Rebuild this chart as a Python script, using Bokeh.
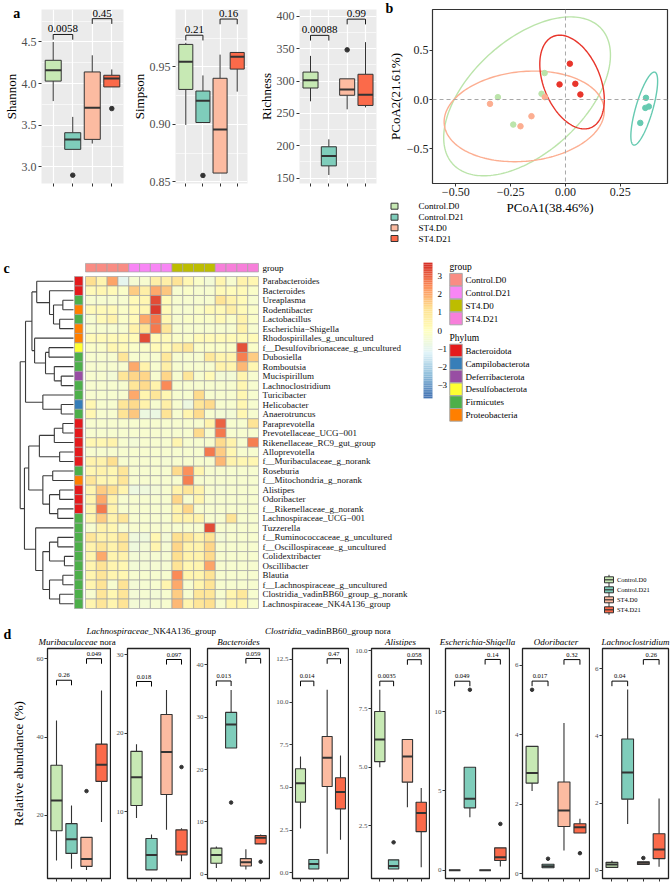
import numpy as np
from bokeh.plotting import figure
from bokeh.models import (Range1d, FixedTicker, CustomJSTickFormatter,
                          ColumnDataSource, LinearColorMapper, Span)
from bokeh.layouts import row, column
from bokeh.embed import file_html
from bokeh.resources import INLINE
from bokeh.core.properties import value
from bokeh.transform import transform

FONT = "Liberation Serif"
EDGE = "#333333"
MINUS = "\u2212"

# ------------------------------------------------------------------ data
groups = ["Control.D0", "Control.D21", "ST4.D0", "ST4.D21"]
box_colors = ["#C7E9B4", "#7FCDBB", "#FCBBA1", "#FB6A4A"]
pcoa_colors = ["#BBE4AA", "#66CAB1", "#FCAE91", "#E8352B"]
positions = [1, 2, 3, 4]

# panel a : alpha diversity box statistics
shannon = dict(hi=[4.50, 3.60, 4.34, 4.17], q3=[4.28, 3.41, 4.14, 4.10], med=[4.16, 3.33, 3.71, 4.06],
               q1=[4.03, 3.21, 3.33, 3.96], lo=[3.79, 3.21, 3.28, 3.96],
               out_g=[2, 4], out_v=[2.90, 3.70], br_y=[4.59, 4.78], br_p=["0.0058", "0.45"])
shannon_lim, shannon_ticks = (2.80, 4.89), [3.0, 3.5, 4.0, 4.5]

simpson = dict(hi=[0.971, 0.9426, 0.9607, 0.9626], q3=[0.9696, 0.929, 0.9401, 0.9626],
               med=[0.9546, 0.9205, 0.8955, 0.9588], q1=[0.9304, 0.9016, 0.8576, 0.9481],
               lo=[0.8995, 0.9016, 0.8576, 0.9285],
               out_g=[2], out_v=[0.8555], br_y=[0.9776, 0.9917], br_p=["0.21", "0.16"])
simpson_lim, simpson_ticks = (0.8485, 1.000), [0.85, 0.90, 0.95]

richness = dict(hi=[338.8, 210, 303.4, 360], q3=[313.8, 198.5, 303.4, 310.4], med=[301.1, 184.3, 287, 278.7],
                q1=[289.2, 169, 278, 262.3], lo=[268.7, 154.9, 256.3, 259.3],
                out_g=[3], out_v=[348.1], br_y=[370.5, 395.5], br_p=["0.00088", "0.99"])
richness_lim, richness_ticks = (141.8, 410.4), [150, 200, 250, 300, 350, 400]

# panel b : PCoA
pc_x = [[-0.308, -0.238, -0.109, -0.095], [0.367, 0.364, 0.380, 0.341],
        [-0.344, -0.205, -0.155, -0.094], [-0.027, 0.020, 0.045, 0.068]]
pc_y = [[0.024, -0.254, 0.058, 0.268], [0.017, -0.085, -0.071, -0.237],
        [-0.044, -0.271, -0.169, 0.024], [0.153, 0.363, 0.159, 0.051]]
ell_cx = [-0.175, 0.359, -0.188, 0.030]
ell_cy = [0.032, -0.092, -0.171, 0.177]
ell_ax = [0.380, 0.061, 0.365, 0.147]
ell_ay = [0.805, 0.370, 0.459, 0.475]
ell_cosd = [0.52, 0.75, 0.12, -0.38]
pc_xlim, pc_ylim = (-0.606, 0.465), (-0.851, 0.912)
pc_xticks, pc_yticks = [-0.5, -0.25, 0.0, 0.25], [-0.5, 0.0, 0.5]

# panel c : heatmap
genera = ["Parabacteroides", "Bacteroides", "Ureaplasma", "Rodentibacter", "Lactobacillus",
          "Escherichia" + MINUS + "Shigella", "Rhodospirillales_g_uncultured",
          "f__Desulfovibrionaceae_g_uncultured", "Dubosiella", "Romboutsia", "Mucispirillum",
          "Lachnoclostridium", "Turicibacter", "Helicobacter", "Anaerotruncus", "Paraprevotella",
          "Prevotellaceae_UCG" + MINUS + "001", "Rikenellaceae_RC9_gut_group", "Alloprevotella",
          "f__Muribaculaceae_g_norank", "Roseburia", "f__Mitochondria_g_norank", "Alistipes",
          "Odoribacter", "f__Rikenellaceae_g_norank", "Lachnospiraceae_UCG" + MINUS + "001", "Tuzzerella",
          "f__Ruminococcaceae_g_uncultured", "f__Oscillospiraceae_g_uncultured", "Colidextribacter",
          "Oscillibacter", "Blautia", "f__Lachnospiraceae_g_uncultured",
          "Clostridia_vadinBB60_group_g_norank", "Lachnospiraceae_NK4A136_group"]
genus_phylum = ["Bacteroidota", "Bacteroidota", "Firmicutes", "Proteobacteria", "Firmicutes",
                "Proteobacteria", "Proteobacteria", "Desulfobacterota", "Firmicutes", "Firmicutes",
                "Deferribacterota", "Firmicutes", "Firmicutes", "Campilobacterota", "Firmicutes",
                "Bacteroidota", "Bacteroidota", "Bacteroidota", "Bacteroidota", "Bacteroidota",
                "Firmicutes", "Proteobacteria", "Bacteroidota", "Bacteroidota", "Bacteroidota",
                "Firmicutes", "Firmicutes", "Firmicutes", "Firmicutes", "Firmicutes",
                "Firmicutes", "Firmicutes", "Firmicutes", "Firmicutes", "Firmicutes"]
sample_group = ["Control.D0"] * 4 + ["Control.D21"] * 4 + ["ST4.D0"] * 4 + ["ST4.D21"] * 4
heat_group_colors = ["#F98C84", "#F886F5", "#BDBD00", "#F77FDA"]
phyla = ["Bacteroidota", "Campilobacterota", "Deferribacterota", "Desulfobacterota", "Firmicutes", "Proteobacteria"]
phylum_colors = ["#E41A1C", "#377EB8", "#984EA3", "#FFFF33", "#4DAF4A", "#FF7F00"]
hm_values = [
    [1.2, 0.4, 2.1, -1.0, -0.4, -0.3, 0.6, 0.6, 1.1, 0.3, -0.2, -0.5, 0.4, -0.3, 0.5, 0.3],
    [0.2, 0.3, 0.2, -0.2, 1.5, 0.6, 2.0, 1.6, -0.3, -0.2, -0.3, -0.3, 0.2, 0.1, 0.2, -0.2],
    [-0.3, -0.3, -0.3, -0.3, 0.2, 0.3, 3.3, 0.2, -0.3, -0.3, -0.3, -0.3, 1.1, 0.5, 0.2, -0.3],
    [0.2, 0.2, 0.2, -0.2, 0.2, 0.3, 3.5, 0.2, -0.3, -0.3, -0.2, 0.2, 0.2, 0.6, 0.2, -0.2],
    [-0.3, 0.2, 0.5, -0.2, 0.2, 2.0, 2.7, 0.3, -0.3, -0.2, -0.2, -0.2, 0.2, -0.2, 0.5, -0.2],
    [-0.3, -0.3, -0.3, -0.3, 0.5, 1.1, 2.7, 1.0, -0.3, -0.3, -0.3, -0.3, -0.3, -0.3, 0.5, -0.3],
    [0.2, 0.2, 0.2, 0.2, 0.2, 3.3, 0.2, 0.2, -0.2, -0.2, 0.2, 0.2, 0.2, 0.2, 0.2, 0.2],
    [-0.2, -0.2, 0.3, 0.2, -0.2, -0.2, 0.2, 0.2, 0.6, 1.0, -0.2, -0.2, -0.2, -0.2, 3.2, -0.2],
    [-0.3, -0.3, -0.3, 1.0, -0.3, -0.3, -0.3, 0.9, -0.3, -0.3, -0.3, 0.9, 0.4, 0.4, 2.6, 1.5],
    [-0.3, -0.3, -0.3, -0.3, 2.0, 0.5, -0.3, 0.6, -0.3, -0.3, -0.3, -0.3, 0.5, 0.4, 1.8, 0.3],
    [-0.3, -0.3, -0.5, 1.0, 1.4, 1.4, -0.3, 1.4, -0.3, 1.0, -0.3, 0.2, -0.5, -0.5, 0.4, -0.3],
    [-0.3, -0.3, -0.3, -0.3, 1.0, 1.3, 0.5, 2.5, -0.3, -0.3, -0.3, -0.3, -0.3, -0.3, 0.3, -0.3],
    [-0.3, -0.3, -0.3, -0.3, 2.0, 0.4, 1.0, 0.3, -0.3, -0.3, 1.3, -0.3, -0.3, -0.3, 0.3, -0.3],
    [0.3, -0.3, -0.3, 1.0, 1.3, 0.5, -0.3, 0.6, -0.3, -0.7, 1.0, 1.3, -0.3, -0.3, 0.3, -0.3],
    [0.3, -0.3, -0.3, 1.1, 1.6, -0.7, -0.8, 1.1, -0.3, 0.4, 1.3, -0.3, -0.5, -0.5, 0.3, -0.3],
    [-0.3, -0.3, -0.3, -0.3, -0.3, -0.3, -0.3, -0.3, -0.3, -0.3, -0.3, 0.5, 3.0, -0.3, -0.3, 1.1],
    [-0.3, -0.3, -0.3, -0.3, -0.3, -0.3, -0.3, -0.3, -0.3, -0.3, 1.3, -0.3, 2.7, -0.3, -0.3, -0.3],
    [0.3, 0.3, 0.5, -0.3, -0.5, -0.3, -0.3, -0.3, 0.4, -0.3, -0.3, -0.3, 1.3, 0.5, -0.3, 2.6],
    [-0.3, -0.3, -0.3, -0.3, -0.3, -0.3, -0.3, -0.3, -0.3, -0.3, -0.3, 2.7, 1.5, 0.3, -0.3, -0.3],
    [0.5, 0.5, 1.2, -0.3, -0.3, -0.3, -0.3, -0.4, -0.3, -0.3, -0.3, -0.3, 1.8, 0.5, 0.3, 0.3],
    [0.3, 0.5, 0.3, 1.0, -0.3, -0.3, -0.3, -0.3, 1.3, 2.4, 0.4, -0.3, -0.3, -0.3, -0.3, -0.3],
    [1.0, 0.3, 0.3, 1.0, -0.3, -0.3, -0.3, -0.3, -0.3, 2.6, -0.3, -0.3, -0.3, -0.3, -0.3, -0.3],
    [0.4, 1.5, 1.2, 0.4, -0.7, -0.6, -0.5, -0.3, 0.5, 1.0, 0.5, -0.3, -0.4, -0.3, -0.3, -0.3],
    [0.4, 2.0, 0.5, -0.3, -0.3, -0.3, -0.3, -0.3, 1.4, -0.3, 0.4, -0.3, -0.3, -0.3, -0.3, -0.3],
    [0.4, 2.7, 0.5, -0.3, -0.3, -0.3, -0.3, -0.3, 0.5, 1.4, -0.3, -0.3, -0.3, -0.3, -0.3, -0.3],
    [0.4, 1.5, 0.5, 1.0, -0.3, -0.3, -0.3, -0.3, 0.5, 0.5, 0.5, -0.3, -0.3, 1.1, -0.3, -0.3],
    [-0.3, 0.5, 0.3, -0.3, -0.3, -0.3, -0.3, -0.3, -0.3, -0.3, -0.3, 3.3, -0.3, -0.3, -0.3, -0.3],
    [1.0, 0.5, 0.5, 1.0, -0.6, -0.6, 0.3, -0.5, 1.2, 1.0, 0.5, 1.1, -0.5, -0.3, -0.3, -0.3],
    [0.5, 1.0, 0.5, 1.0, -0.6, -0.5, 0.4, -0.4, 1.4, 0.5, 0.5, 1.4, -0.3, -0.3, -0.3, -0.3],
    [0.4, 2.0, 0.4, 0.5, -0.5, -0.5, -0.4, -0.4, 1.2, 0.5, 0.5, 1.3, -0.3, -0.3, -0.3, -0.3],
    [0.4, 1.1, 0.4, 0.3, -0.5, -0.5, -0.4, -0.4, 1.1, 0.3, 0.4, 2.1, -0.3, -0.3, -0.3, -0.3],
    [0.4, 1.0, 0.4, 0.3, -0.3, -0.3, -0.3, -0.3, 2.5, 0.4, 0.4, 1.1, -0.3, -0.3, -0.3, -0.3],
    [0.4, 1.1, -0.3, 1.1, -0.5, -0.4, -0.3, 0.4, 2.0, -0.3, 0.4, 1.1, -0.3, -0.3, -0.3, -0.3],
    [-0.3, 1.0, 0.3, 1.0, -0.5, -0.4, -0.5, -0.3, 1.5, -0.3, 1.0, 1.0, -0.3, 0.4, 0.9, -0.3],
    [0.4, 1.0, 0.4, 1.1, -0.5, -0.5, -0.4, -0.3, 1.8, 0.4, 1.0, 1.2, -0.3, 0.4, 0.4, -0.3],
]
# row dendrogram: (height, left, right), leaves are row indices; heights relative to root
row_tree = (1.00,
            (0.90,
             (0.78,
              (0.69, 0, (0.45, 1, (0.375, (0.20, 2, 3), (0.26, 4, 5)))),
              (0.73, 6, (0.525, (0.46, 7, 8), (0.36, 9, (0.23, 10, 11))))),
             (0.575, 12, (0.23, 13, 14))),
            (0.92,
             (0.84,
              (0.64, (0.36, (0.20, 15, 16), 17), (0.26, 18, 19)),
              (0.575, (0.39, 20, 21), (0.45, (0.26, 22, 23), (0.295, 24, 25)))),
             (0.71, 26, (0.575, (0.45, (0.295, 27, 28), (0.17, 29, 30)),
                         (0.45, (0.20, 31, 32), (0.26, 33, 34))))))
cbar_ticks = [3, 2, 1, 0, -1, -2, -3]

# panel d : relative abundance box statistics
mur = dict(hi=[44.2, 22.5, 14.4, 51.9], q3=[32.8, 17.9, 14.4, 38.2], med=[23.8, 13.9, 8.9, 32.9],
           q1=[16.1, 10.3, 7.0, 28.7], lo=[8.5, 6.4, 6.1, 18.3],
           out_g=[3], out_v=[26.2], br_y=[54.5, 60.0], br_p=["0.26", "0.049"])
lnk = dict(hi=[18.6, 7.1, 25.5, 7.9], q3=[17.7, 6.6, 22.4, 7.7], med=[14.4, 4.5, 17.6, 4.9],
           q1=[10.8, 2.6, 12.2, 4.5], lo=[9.2, 2.6, 7.7, 3.7],
           out_g=[4], out_v=[15.7], br_y=[26.6, 29.4], br_p=["0.018", "0.097"])
bac = dict(hi=[5.3, 35.2, 4.8, 7.6], q3=[5.0, 30.9, 3.0, 7.4], med=[3.7, 28.6, 2.3, 7.0],
           q1=[2.1, 24.1, 1.6, 5.8], lo=[1.2, 24.1, 0.9, 5.8],
           out_g=[2, 4], out_v=[13.7, 2.4], br_y=[36.9, 41.2], br_p=["0.013", "0.059"])
clo = dict(hi=[6.82, 0.78, 10.72, 6.88], q3=[6.1, 0.78, 7.99, 5.57], med=[5.25, 0.52, 6.74, 4.73],
           q1=[4.14, 0.23, 5.06, 3.75], lo=[2.6, 0.23, 1.12, 1.94],
           out_g=[], out_v=[], br_y=[11.23, 12.54], br_p=["0.014", "0.47"])
ali = dict(hi=[8.32, 1.03, 6.19, 4.11], q3=[7.39, 1.03, 6.19, 3.5], med=[6.19, 0.77, 5.46, 3.04],
           q1=[5.24, 0.64, 4.36, 2.24], lo=[5.0, 0.64, 3.28, 0.71],
           out_g=[2], out_v=[1.78], br_y=[8.69, 9.61], br_p=["0.0035", "0.058"])
esc = dict(hi=[0, 6.49, 0, 1.41], q3=[0, 6.49, 0, 1.41], med=[0, 4.5, 0, 0.82],
           q1=[0, 3.93, 0, 0.61], lo=[0, 3.34, 0, 0.23],
           out_g=[2, 4], out_v=[11.37, 2.92], br_y=[11.91, 13.28], br_p=["0.049", "0.14"])
odo = dict(hi=[3.67, 0.27, 4.34, 1.58], q3=[3.67, 0.27, 2.64, 1.44], med=[2.90, 0.21, 1.82, 1.34],
           q1=[2.61, 0.17, 1.36, 1.17], lo=[2.38, 0.17, 0.67, 1.17],
           out_g=[1, 2, 4], out_v=[5.30, 0.43, 0.59], br_y=[5.55, 6.17], br_p=["0.017", "0.32"])
lcl = dict(hi=[0.29, 5.38, 0.26, 2.14], q3=[0.24, 3.91, 0.26, 1.09], med=[0.18, 2.91, 0.23, 0.62],
           q1=[0.09, 2.12, 0.18, 0.35], lo=[0.09, 1.38, 0.18, 0.11],
           out_g=[3], out_v=[0.37], br_y=[5.63, 6.27], br_p=["0.04", "0.26"])
d_stats = [mur, lnk, bac, clo, ali, esc, odo, lcl]
d_lims = [(3.9, 62.6), (1.5, 30.8), (-0.8, 43.1), (-0.33, 13.14), (0.23, 10.09), (-0.52, 13.97),
          (-0.14, 6.49), (-0.24, 6.6)]
d_ticks = [[20, 40, 60], [10, 20, 30], [0, 10, 20, 30, 40], [0, 2.5, 5, 7.5, 10, 12.5],
           [2.5, 5, 7.5, 10], [0, 5, 10], [0, 2, 4, 6], [0, 2, 4, 6]]
d_decimals = [0, 0, 0, 1, 1, 0, 0, 0]
d_title_italic = ["Muribaculaceae", "Lachnospiraceae", "Bacteroides", "Clostridia", "Alistipes",
                  "Escherichia-Shigella", "Odoribacter", "Lachnoclostridium"]
d_title_plain = ["\u00a0nora", "_NK4A136_group", "", "_vadinBB60_group\u00a0nora", "", "", "", ""]
d_title_upper = [False, True, False, True, False, False, False, False]


# ------------------------------------------------------------------ helpers
def fmt(dec):
    return CustomJSTickFormatter(code="const s = Math.abs(tick).toFixed(%d); "
                                      "return tick < -1e-9 ? '\\u2212' + s : s;" % dec)


def blank_fmt():
    return CustomJSTickFormatter(code="return '';")


def interp_colors(stops, n):
    rgb = np.array([[int(s[i:i + 2], 16) for i in (1, 3, 5)] for s in stops], float)
    pos = np.linspace(0, 1, len(stops))
    out = []
    for t in np.linspace(0, 1, n):
        c = [int(round(np.interp(t, pos, rgb[:, k]))) for k in range(3)]
        out.append("#%02x%02x%02x" % tuple(c))
    return out


def canvas_conv(w, h, bl, br, bt, bb, xr, yr):
    fx = lambda cx: xr[0] + (cx - bl) / (w - bl - br) * (xr[1] - xr[0])
    fy = lambda cy: yr[1] - (cy - bt) / (h - bt - bb) * (yr[1] - yr[0])
    return fx, fy


def style_axis(ax, size, color, tick_out):
    ax.major_label_text_font = FONT
    ax.major_label_text_font_size = size
    ax.major_label_text_color = color
    ax.axis_label_text_font = FONT
    ax.axis_label_text_font_style = "normal"
    ax.axis_label_text_color = "black"
    ax.major_tick_in = 0
    ax.major_tick_out = tick_out
    ax.minor_tick_line_color = None


def draw_boxes(p, st, bw, lw, mlw, osize, tick_frac, font_px, lab_frac):
    src = ColumnDataSource(dict(x=positions, hi=st["hi"], q3=st["q3"], med=st["med"], q1=st["q1"],
                                lo=st["lo"], xl=[x - bw / 2 for x in positions],
                                xr=[x + bw / 2 for x in positions], c=box_colors))
    p.segment(x0="x", y0="q3", x1="x", y1="hi", source=src, line_color=EDGE, line_width=lw)
    p.segment(x0="x", y0="lo", x1="x", y1="q1", source=src, line_color=EDGE, line_width=lw)
    p.quad(left="xl", right="xr", bottom="q1", top="q3", source=src, fill_color="c",
           line_color=EDGE, line_width=lw)
    p.segment(x0="xl", y0="med", x1="xr", y1="med", source=src, line_color=EDGE, line_width=mlw)
    if st["out_g"]:
        p.scatter(x=st["out_g"], y=st["out_v"], size=osize, color=EDGE)
    span = p.y_range.end - p.y_range.start
    t = tick_frac * span
    xs = [[1, 1, 2, 2], [3, 3, 4, 4]]
    ys = [[y - t, y, y, y - t] for y in st["br_y"]]
    p.multi_line(xs=xs, ys=ys, line_color="black", line_width=lw * 0.9)
    p.text(x=[1.5, 3.5], y=[y + lab_frac * span for y in st["br_y"]], text=st["br_p"],
           text_font=value(FONT), text_font_size=font_px, text_align="center",
           text_baseline="bottom", text_color="black")


def panel_letter(p, conv, cx, cy, letter):
    fx, fy = conv
    p.text(x=[fx(cx)], y=[fy(cy)], text=[letter], text_font=value(FONT), text_font_size="14px",
           text_font_style="bold", text_baseline="top", text_align="left", level="overlay")


# ------------------------------------------------------------------ panel a
A_H, A_BT, A_BB = 252, 5, 7


def panel_a(width, bl, br, st, lim, ticks, dec, ylabel, letter=None):
    p = figure(width=width, height=A_H, x_range=Range1d(0.4, 4.6), y_range=Range1d(*lim),
               min_border_left=bl, min_border_right=br, min_border_top=A_BT, min_border_bottom=A_BB,
               output_backend="svg", toolbar_location=None)
    p.background_fill_color = "#EBEBEB"
    p.outline_line_color = None
    step = ticks[1] - ticks[0]
    minor = [ticks[0] - step / 2] + [t + step / 2 for t in ticks]
    p.yaxis.ticker = FixedTicker(ticks=ticks, minor_ticks=minor)
    p.xaxis.ticker = FixedTicker(ticks=positions, minor_ticks=[])
    p.xgrid.grid_line_color = "white"
    p.xgrid.grid_line_width = 1.2
    p.ygrid.grid_line_color = "white"
    p.ygrid.grid_line_width = 1.2
    p.ygrid.minor_grid_line_color = "white"
    p.ygrid.minor_grid_line_width = 0.6
    for ax in p.axis:
        style_axis(ax, "12px", "#4D4D4D", 3)
        ax.axis_line_color = None
        ax.major_tick_line_color = EDGE
    p.xaxis.formatter = blank_fmt()
    p.xaxis.major_label_text_font_size = "1px"
    p.xaxis.major_label_standoff = 0
    p.yaxis.formatter = fmt(dec)
    p.yaxis.major_label_standoff = 1
    p.yaxis.axis_label = ylabel
    p.yaxis.axis_label_text_font_size = "13px"
    p.yaxis.axis_label_standoff = 0
    draw_boxes(p, st, 0.82, 1.0, 2.0, 4.5, 0.03, "11px", 0.012)
    if letter:
        panel_letter(p, canvas_conv(width, A_H, bl, br, A_BT, A_BB, (0.4, 4.6), lim), 2, 0, letter)
    return p


fa1 = panel_a(128, 33, 5, shannon, shannon_lim, shannon_ticks, 1, "Shannon", "a")
fa2 = panel_a(127, 40, 8, simpson, simpson_lim, simpson_ticks, 2, "Simpson")
fa3 = panel_a(125, 40, 4, richness, richness_lim, richness_ticks, 0, "Richness")

# ------------------------------------------------------------------ panel b
FB_W, FB_H = 291, 252
FB_BL, FB_BR, FB_BT, FB_BB = 52, 4, 9, 69
fb = figure(width=FB_W, height=FB_H, x_range=Range1d(*pc_xlim), y_range=Range1d(*pc_ylim),
            min_border_left=FB_BL, min_border_right=FB_BR, min_border_top=FB_BT, min_border_bottom=FB_BB,
            output_backend="svg", toolbar_location=None)
fb.grid.visible = False
fb.outline_line_color = EDGE
fb.outline_line_width = 1.2
for ax in fb.axis:
    style_axis(ax, "12px", "#1A1A1A", 3)
    ax.axis_line_color = None
    ax.major_tick_line_color = EDGE
    ax.major_label_standoff = 1
    ax.axis_label_text_font_size = "13px"
    ax.axis_label_standoff = 1
fb.xaxis.ticker = FixedTicker(ticks=pc_xticks, minor_ticks=[])
fb.yaxis.ticker = FixedTicker(ticks=pc_yticks, minor_ticks=[])
fb.xaxis.formatter = fmt(2)
fb.yaxis.formatter = fmt(1)
fb.xaxis.axis_label = "PCoA1(38.46%)"
fb.yaxis.axis_label = "PCoA2(21.61%)"
fb.add_layout(Span(location=0, dimension="height", line_color="#A8A8A8", line_dash="4 3", line_width=1))
fb.add_layout(Span(location=0, dimension="width", line_color="#A8A8A8", line_dash="4 3", line_width=1))
tt = np.linspace(0, 2 * np.pi, 200)
for k in range(4):
    dd = np.arccos(ell_cosd[k])
    fb.line(ell_cx[k] + ell_ax[k] * np.cos(tt), ell_cy[k] + ell_ay[k] * np.cos(tt - dd),
            line_color=pcoa_colors[k], line_width=1.4)
for k in range(4):
    fb.scatter(pc_x[k], pc_y[k], size=5.5, color=pcoa_colors[k])
fb_conv = canvas_conv(FB_W, FB_H, FB_BL, FB_BR, FB_BT, FB_BB, pc_xlim, pc_ylim)
panel_letter(fb, fb_conv, 5, 0, "b")


def legend_keys(p, xb, xd, xt, ys, font_px, box_w, box_h, whisk, level, dots):
    p.scatter(x=[xb] * 4, y=ys, marker="dash", size=whisk, angle=np.pi / 2, line_color=EDGE,
              line_width=1, level=level)
    p.rect(x=[xb] * 4, y=ys, width=box_w, height=box_h, width_units="screen", height_units="screen",
           fill_color=box_colors, line_color=EDGE, line_width=1, level=level)
    p.scatter(x=[xb] * 4, y=ys, marker="dash", size=box_w, line_color=EDGE, line_width=1.2, level=level)
    if dots:
        p.scatter(x=[xd] * 4, y=ys, size=5.5, color=pcoa_colors, level=level)
    p.text(x=[xt] * 4, y=ys, text=groups, text_font=value(FONT), text_font_size=font_px,
           text_baseline="middle", text_align="left", text_color="black", level=level)


fx, fy = fb_conv
legend_keys(fb, fx(14), fx(28), fx(38), [fy(c) for c in (205.7, 216.7, 227.3, 238.0)],
            "9px", 7, 6, 11, "overlay", True)

# ------------------------------------------------------------------ panel c (+ panel d headers)
fc = figure(width=671, height=394, x_range=Range1d(0, 671), y_range=Range1d(646, 252),
            x_axis_location=None, y_axis_location=None, min_border_left=0, min_border_right=0,
            min_border_top=0, min_border_bottom=0, output_backend="svg", toolbar_location=None)
fc.grid.visible = False
fc.outline_line_color = None

HM_X0, HM_X1, HM_Y0, HM_Y1 = 85.0, 258.0, 276.0, 608.0
n_rows, n_cols = len(genera), len(sample_group)
CW = (HM_X1 - HM_X0) / n_cols
RH = (HM_Y1 - HM_Y0) / n_rows
heat_pal = interp_colors(["#4575B4", "#91BFDB", "#E0F3F8", "#FFFFBF", "#FEE090", "#FC8D59", "#D73027"], 100)
mapper = LinearColorMapper(palette=heat_pal, low=-3.7, high=3.7)

cx, cy, cv = [], [], []
for i in range(n_rows):
    for j in range(n_cols):
        cx.append(HM_X0 + (j + 0.5) * CW)
        cy.append(HM_Y0 + (i + 0.5) * RH)
        cv.append(hm_values[i][j])
fc.rect(x="x", y="y", width=CW, height=RH, source=ColumnDataSource(dict(x=cx, y=cy, v=cv)),
        fill_color=transform("v", mapper), line_color="#A3A3A3", line_width=0.7)

row_y = [HM_Y0 + (i + 0.5) * RH for i in range(n_rows)]
col_x = [HM_X0 + (j + 0.5) * CW for j in range(n_cols)]
gcol = [heat_group_colors[groups.index(g)] for g in sample_group]
fc.rect(x=col_x, y=[267.2] * n_cols, width=CW, height=8.5, fill_color=gcol, line_color="#A3A3A3",
        line_width=0.7)
fc.text(x=[262], y=[267.2], text=["group"], text_font=value(FONT), text_font_size="9px",
        text_baseline="middle")
pcol = [phylum_colors[phyla.index(ph)] for ph in genus_phylum]
fc.rect(x=[78.2] * n_rows, y=row_y, width=8.4, height=RH, fill_color=pcol, line_color="#A3A3A3",
        line_width=0.7)
fc.text(x=[262] * n_rows, y=row_y, text=genera, text_font=value(FONT), text_font_size="9px",
        text_baseline="middle", text_color="#111111")

# dendrogram
LEAF_X, TREE_W = 73.0, 53.3
seg = dict(x0=[], y0=[], x1=[], y1=[])


def walk(node):
    if isinstance(node, int):
        return row_y[node], 0.0
    h, left, right = node
    yl, hl = walk(left)
    yr, hr = walk(right)
    xn = LEAF_X - h * TREE_W
    for yc, hc in ((yl, hl), (yr, hr)):
        seg["x0"].append(xn); seg["y0"].append(yc)
        seg["x1"].append(LEAF_X - hc * TREE_W); seg["y1"].append(yc)
    seg["x0"].append(xn); seg["y0"].append(yl)
    seg["x1"].append(xn); seg["y1"].append(yr)
    return (yl + yr) / 2, h


walk(row_tree)
fc.segment(x0="x0", y0="y0", x1="x1", y1="y1", source=ColumnDataSource(seg), line_color="#3A3A3A",
           line_width=1.1)

# colour bar
CB_X0, CB_X1, CB_YC, CB_S = 423.0, 432.0, 330.0, 18.1
grad = np.linspace(-3.7, 3.7, 75)
dg = grad[1] - grad[0]
cb_src = ColumnDataSource(dict(v=grad, top=[CB_YC - (g + dg / 2) * CB_S for g in grad],
                               bottom=[CB_YC - (g - dg / 2) * CB_S for g in grad]))
fc.quad(left=CB_X0, right=CB_X1, top="top", bottom="bottom",
        fill_color=transform("v", mapper), line_color=None, source=cb_src)
fc.text(x=[437] * len(cbar_ticks), y=[CB_YC - t * CB_S for t in cbar_ticks],
        text=[(MINUS + str(-t)) if t < 0 else str(t) for t in cbar_ticks],
        text_font=value(FONT), text_font_size="9px", text_baseline="middle", text_align="left")

# group / phylum legends
fc.text(x=[449, 449], y=[266.5, 337.3], text=["group", "Phylum"], text_font=value(FONT),
        text_font_size="9.5px", text_baseline="middle")
gy = [279.2, 292.0, 305.0, 318.0]
fc.rect(x=[455.5] * 4, y=gy, width=12.5, height=12.6, fill_color=heat_group_colors,
        line_color="#A8A8A8", line_width=1)
fc.text(x=[465] * 4, y=gy, text=groups, text_font=value(FONT), text_font_size="9px",
        text_baseline="middle")
py = [350.0, 363.0, 376.0, 388.8, 401.7, 414.4]
fc.rect(x=[455.5] * 6, y=py, width=12.5, height=12.6, fill_color=phylum_colors,
        line_color="#A8A8A8", line_width=1)
fc.text(x=[465] * 6, y=py, text=phyla, text_font=value(FONT), text_font_size="9px",
        text_baseline="middle")

# panel d legend and titles (drawn in this canvas)
legend_keys(fc, 608.5, 0, 616.5, [579.3, 589.3, 599.3, 609.3], "6.5px", 9, 6, 10, "glyph", False)
D_FRAMES = [(47, 110), (127, 190), (207, 269), (292, 348), (371, 429), (445, 509), (522, 589), (602, 668)]
split_shift = [18.5, -10.5, 0, -19, 0, 0, 0, 0]
for k in range(8):
    xc = (D_FRAMES[k][0] + D_FRAMES[k][1]) / 2
    yt = 630 if d_title_upper[k] else 641
    if d_title_plain[k]:
        xs = xc + split_shift[k]
        fc.text(x=[xs], y=[yt], text=[d_title_italic[k]], text_font=value(FONT), text_font_size="9px",
                text_font_style="italic", text_align="right", text_baseline="middle")
        fc.text(x=[xs], y=[yt], text=[d_title_plain[k]], text_font=value(FONT), text_font_size="9px",
                text_align="left", text_baseline="middle")
    else:
        fc.text(x=[xc], y=[yt], text=[d_title_italic[k]], text_font=value(FONT), text_font_size="9px",
                text_font_style="italic", text_align="center", text_baseline="middle")
fc.text(x=[3, 3], y=[268, 634], text=["c", "d"], text_font=value(FONT), text_font_size="14px",
        text_font_style="bold", text_baseline="middle")

# ------------------------------------------------------------------ panel d
d_widths = [111, 80, 79, 79, 81, 80, 80, 81]
d_bl = [47, 16, 16, 22, 22, 15, 12, 12]
d_br = [1, 1, 1, 1, 1, 1, 1, 3]
fds = []
for k in range(8):
    p = figure(width=d_widths[k], height=236, x_range=Range1d(0.4, 4.6), y_range=Range1d(*d_lims[k]),
               min_border_left=d_bl[k], min_border_right=d_br[k], min_border_top=2, min_border_bottom=4,
               output_backend="svg", toolbar_location=None)
    p.grid.visible = False
    p.outline_line_color = "#222222"
    p.outline_line_width = 1.3
    for ax in p.axis:
        style_axis(ax, "7px", "#4D4D4D", 3)
        ax.axis_line_color = None
        ax.major_tick_line_color = EDGE
        ax.major_label_standoff = 1
    p.xaxis.ticker = FixedTicker(ticks=positions, minor_ticks=[])
    p.xaxis.formatter = blank_fmt()
    p.xaxis.major_label_text_font_size = "1px"
    p.xaxis.major_label_standoff = 0
    p.yaxis.ticker = FixedTicker(ticks=d_ticks[k], minor_ticks=[])
    p.yaxis.formatter = fmt(d_decimals[k])
    if k == 0:
        p.yaxis.axis_label = "Relative abundance (%)"
        p.yaxis.axis_label_text_font_size = "13px"
        p.yaxis.axis_label_standoff = 8
    draw_boxes(p, d_stats[k], 0.75, 1.1, 2.0, 3.5, 0.022, "6.5px", 0.012)
    fds.append(p)

layout = column(row(fa1, fa2, fa3, fb), fc, row(*fds))
open("out.html", "w", encoding="utf-8").write(file_html(layout, INLINE))
